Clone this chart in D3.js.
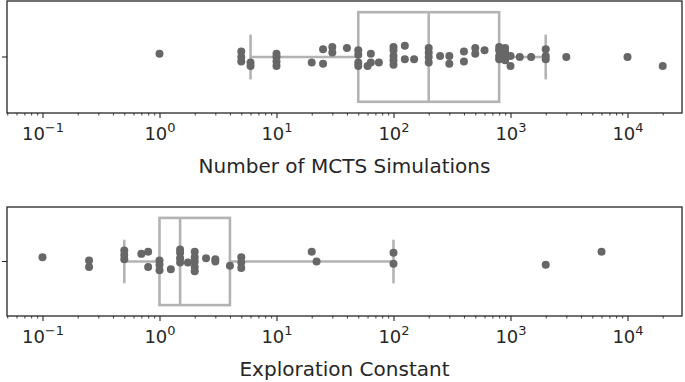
<!DOCTYPE html>
<html>
<head>
<meta charset="utf-8">
<script src="https://cdn.jsdelivr.net/npm/d3@7"></script>
<style>
  body { margin: 0; background: #fff; }
  text { font-family: "DejaVu Sans", sans-serif; fill: #262626; }
</style>
</head>
<body>
<svg id="chart"></svg>
<script>
// number of MCTS simulations: value + vertical jitter (in category units)
const simValues = [1, 5, 5, 5, 6, 6, 10, 10, 10, 10, 20, 25, 25, 30, 30, 40,
  50, 50, 50, 50, 60, 64, 64, 75, 100, 100, 100, 100, 100, 125, 125, 150,
  200, 200, 200, 200, 250, 300, 300, 400, 400, 500, 500, 600,
  800, 800, 800, 800, 900, 900, 900, 900, 1000, 1000, 1200, 1500,
  2000, 2000, 2000, 3000, 10000, 20000];
const simJitter = [-0.03, -0.05, 0, 0.04, 0.05, 0.08, -0.03, 0, 0.04, 0.08, 0.05, -0.07, 0.06, -0.09, -0.04, -0.08,
  -0.06, -0.02, 0.05, 0.08, 0.08, -0.03, 0.05, 0.05, -0.09, -0.06, -0.01, 0.03, 0.07, -0.1, 0.02, 0.02,
  -0.08, -0.04, 0, 0.05, -0.01, -0.01, 0.06, -0.05, 0.04, -0.08, -0.03, -0.06,
  -0.09, -0.06, -0.01, 0.02, -0.08, -0.04, 0, 0.03, -0.01, 0.08, 0, 0,
  -0.07, -0.01, 0.02, 0, 0, 0.08];
const simBox = [6, 50, 200, 800, 2000]; // whisker lo, q1, median, q3, whisker hi

// exploration constant
const expValues = [0.1, 0.25, 0.25, 0.5, 0.5, 0.5, 0.7, 0.8, 0.8, 1, 1, 1, 1.25,
  1.5, 1.5, 1.5, 1.5, 1.75, 2, 2, 2, 2, 2, 2.5, 3, 3, 4, 5, 5, 5,
  20, 22, 100, 100, 2000, 6000];
const expJitter = [-0.04, -0.01, 0.05, -0.1, -0.06, -0.02, -0.07, -0.09, 0.05, -0.01, 0.03, 0.08, 0.07,
  -0.11, -0.08, -0.03, 0.01, 0.01, -0.09, -0.04, 0, 0.05, 0.09, -0.03, -0.02, 0, 0.04, -0.04, 0.01, 0.06,
  -0.09, 0, -0.08, 0.02, 0.03, -0.09];
const expBox = [0.5, 1, 1.5, 4, 100];

const decades = [0.1, 1, 10, 100, 1000, 10000];
const exponents = ["\u22121", "0", "1", "2", "3", "4"];

const W = 685, H = 382;
const boxColor = "#b3b3b3", dotColor = "#676767", ink = "#262626";

const svg = d3.select("#chart").attr("width", W).attr("height", H);

// shared log x scale (frame runs from x=7 to x=682)
const x = d3.scaleLog()
  .domain([Math.pow(10, -1.3034), Math.pow(10, 4.4658)])
  .range([7, 682]);

const minor = [];
[0.01, 0.1, 1, 10, 100, 1000, 10000].forEach(d => {
  for (let k = 2; k <= 9; k++) {
    const v = d * k;
    if (v > x.domain()[0] && v < x.domain()[1]) minor.push(v);
  }
});

const panels = [
  { top: 1, bottom: 113, values: simValues, jitter: simJitter, box: simBox, label: "Number of MCTS Simulations" },
  { top: 207, bottom: 316, values: expValues, jitter: expJitter, box: expBox, label: "Exploration Constant" }
];

panels.forEach(p => {
  const y = d3.scaleLinear().domain([-0.5, 0.5]).range([p.top, p.bottom]);
  const g = svg.append("g");
  const [lo, q1, med, q3, hi] = p.box;
  const bw = 0.8, cw = 0.4;

  // box
  const bx = g.append("g")
    .attr("fill", "none")
    .attr("stroke", boxColor)
    .attr("stroke-width", 2.6);
  bx.append("rect")
    .attr("x", x(q1)).attr("y", y(-bw / 2))
    .attr("width", x(q3) - x(q1)).attr("height", y(bw / 2) - y(-bw / 2));
  bx.append("line")
    .attr("x1", x(med)).attr("x2", x(med))
    .attr("y1", y(-bw / 2)).attr("y2", y(bw / 2));
  bx.append("line").attr("x1", x(lo)).attr("x2", x(q1)).attr("y1", y(0)).attr("y2", y(0));
  bx.append("line").attr("x1", x(q3)).attr("x2", x(hi)).attr("y1", y(0)).attr("y2", y(0));
  [lo, hi].forEach(v => {
    bx.append("line").attr("x1", x(v)).attr("x2", x(v))
      .attr("y1", y(-cw / 2)).attr("y2", y(cw / 2));
  });

  // points
  g.selectAll("circle")
    .data(p.values)
    .join("circle")
    .attr("cx", d => x(d))
    .attr("cy", (d, i) => y(p.jitter[i]))
    .attr("r", 4)
    .attr("fill", dotColor);

  // frame
  g.append("rect")
    .attr("x", 7).attr("y", p.top)
    .attr("width", 682 - 7).attr("height", p.bottom - p.top)
    .attr("fill", "none")
    .attr("stroke", ink)
    .attr("stroke-width", 1.3);

  // y tick (single category, no label)
  g.append("line")
    .attr("x1", 2).attr("x2", 7)
    .attr("y1", y(0)).attr("y2", y(0))
    .attr("stroke", ink).attr("stroke-width", 1.1);

  // x axis: major ticks
  const ax = g.append("g")
    .attr("transform", `translate(0,${p.bottom})`)
    .call(d3.axisBottom(x).tickValues(decades).tickSize(5).tickFormat(""));
  ax.select(".domain").remove();
  ax.selectAll("line").attr("stroke", ink).attr("stroke-width", 1.1);

  ax.selectAll(".tick").append("text")
    .attr("y", 27)
    .attr("text-anchor", "middle")
    .attr("fill", ink)
    .style("font-size", "18px")
    .each(function (d, i) {
      const t = d3.select(this);
      t.append("tspan").text("10");
      t.append("tspan").attr("dy", -8).style("font-size", "13px").text(exponents[i]);
    });

  // minor ticks
  const mx = g.append("g")
    .attr("transform", `translate(0,${p.bottom})`)
    .call(d3.axisBottom(x).tickValues(minor).tickSize(2.5).tickFormat(""));
  mx.select(".domain").remove();
  mx.selectAll("line").attr("stroke", ink).attr("stroke-width", 0.9);

  // axis label
  g.append("text")
    .attr("x", (7 + 682) / 2)
    .attr("y", p.bottom + 60)
    .attr("text-anchor", "middle")
    .style("font-size", "20px")
    .text(p.label);
});
</script>
</body>
</html>
